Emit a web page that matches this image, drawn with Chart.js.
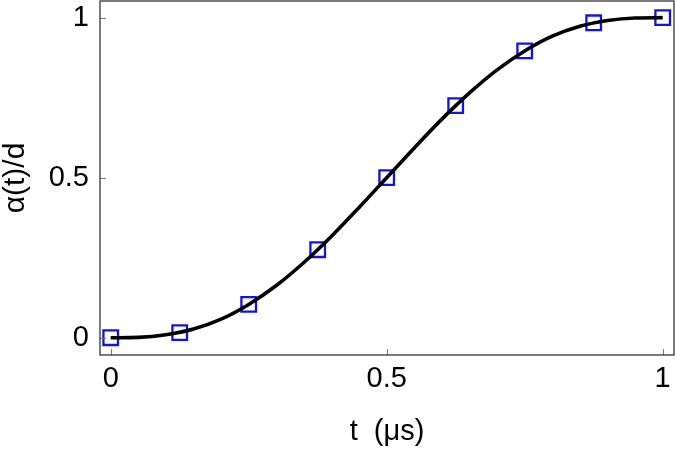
<!DOCTYPE html>
<html>
<head>
<meta charset="utf-8">
<script src="https://cdn.jsdelivr.net/npm/chart.js@4"></script>
<style>
  body { margin: 0; background: #fff; }
  canvas { display: block; }
</style>
</head>
<body>
<canvas id="grafico" width="675" height="449"></canvas>
<script>
// pontos medidos (quadrados azuis)
const tPontos = [0, 0.125, 0.25, 0.375, 0.5, 0.625, 0.75, 0.875, 1];
const alfaPontos = [0, 0.016, 0.104, 0.275, 0.5, 0.725, 0.896, 0.984, 1];

// curva continua
const tCurva = [0, 0.05, 0.1, 0.15, 0.2, 0.25, 0.3, 0.35, 0.4, 0.45, 0.5,
                0.55, 0.6, 0.65, 0.7, 0.75, 0.8, 0.85, 0.9, 0.95, 1];
const alfaCurva = [0, 0.001, 0.009, 0.027, 0.058, 0.104, 0.163, 0.235, 0.317, 0.407, 0.5,
                   0.593, 0.683, 0.765, 0.837, 0.896, 0.942, 0.973, 0.991, 0.999, 1];

const ticksX = [0, 0.5, 1];
const ticksY = [0, 0.5, 1];

const fonte = "'Liberation Sans', Arial, sans-serif";

// moldura + tracinhos internos
const moldura = {
    id: 'moldura',
    afterDraw(chart) {
        const c = chart.ctx;
        const a = chart.chartArea;
        const sx = chart.scales.x;
        const sy = chart.scales.y;
        c.save();
        c.strokeStyle = '#777';
        c.lineWidth = 1;
        ticksX.forEach(v => {
            let px = Math.round(sx.getPixelForValue(v)) + 0.5;
            c.beginPath();
            c.moveTo(px, a.bottom);
            c.lineTo(px, a.bottom - 6);
            c.stroke();
        });
        ticksY.forEach(v => {
            let py = Math.round(sy.getPixelForValue(v)) + 0.5;
            c.beginPath();
            c.moveTo(a.left, py);
            c.lineTo(a.left + 6, py);
            c.stroke();
        });
        c.strokeStyle = '#333';
        c.lineWidth = 1.3;
        c.strokeRect(a.left, a.top, a.right - a.left, a.bottom - a.top);
        c.restore();
    }
};

new Chart(document.getElementById('grafico'), {
    type: 'scatter',
    data: {
        datasets: [
            {
                data: tCurva.map((t, i) => ({ x: t, y: alfaCurva[i] })),
                showLine: true,
                borderColor: '#000',
                borderWidth: 3.6,
                pointRadius: 0,
                cubicInterpolationMode: 'monotone',
                clip: false,
                order: 1
            },
            {
                data: tPontos.map((t, i) => ({ x: t, y: alfaPontos[i] })),
                pointStyle: 'rect',
                pointRadius: 10.3,
                pointBorderWidth: 2.3,
                pointBorderColor: '#1414d8',
                pointBackgroundColor: 'rgba(0,0,0,0)',
                clip: false,
                order: 2
            }
        ]
    },
    options: {
        responsive: false,
        animation: false,
        layout: { autoPadding: false, padding: { top: 1, right: 1, left: 0, bottom: 0 } },
        plugins: { legend: { display: false }, tooltip: { enabled: false } },
        scales: {
            x: {
                type: 'linear',
                min: -0.0194,
                max: 1.0205,
                afterBuildTicks: s => { s.ticks = ticksX.map(v => ({ value: v })); },
                afterFit: s => { s.height = 94; s.paddingLeft = 0; s.paddingRight = 0; },
                grid: { display: false, drawTicks: false },
                border: { display: false },
                ticks: {
                    padding: 7,
                    color: '#000',
                    font: { family: fonte, size: 29 },
                    callback: v => String(v)
                },
                title: {
                    display: true,
                    text: 't  (μs)',
                    color: '#000',
                    font: { family: fonte, size: 29 },
                    padding: { top: 0, bottom: 0 }
                }
            },
            y: {
                type: 'linear',
                min: -0.054,
                max: 1.052,
                afterBuildTicks: s => { s.ticks = ticksY.map(v => ({ value: v })); },
                afterFit: s => { s.width = 100; s.paddingTop = 0; s.paddingBottom = 0; },
                grid: { display: false, drawTicks: false },
                border: { display: false },
                ticks: {
                    padding: 11,
                    color: '#000',
                    font: { family: fonte, size: 29 },
                    callback: v => String(v)
                },
                title: {
                    display: true,
                    text: 'α(t)/d',
                    color: '#000',
                    font: { family: fonte, size: 30 },
                    padding: { top: -2, bottom: 0 }
                }
            }
        }
    },
    plugins: [moldura]
});
</script>
</body>
</html>
